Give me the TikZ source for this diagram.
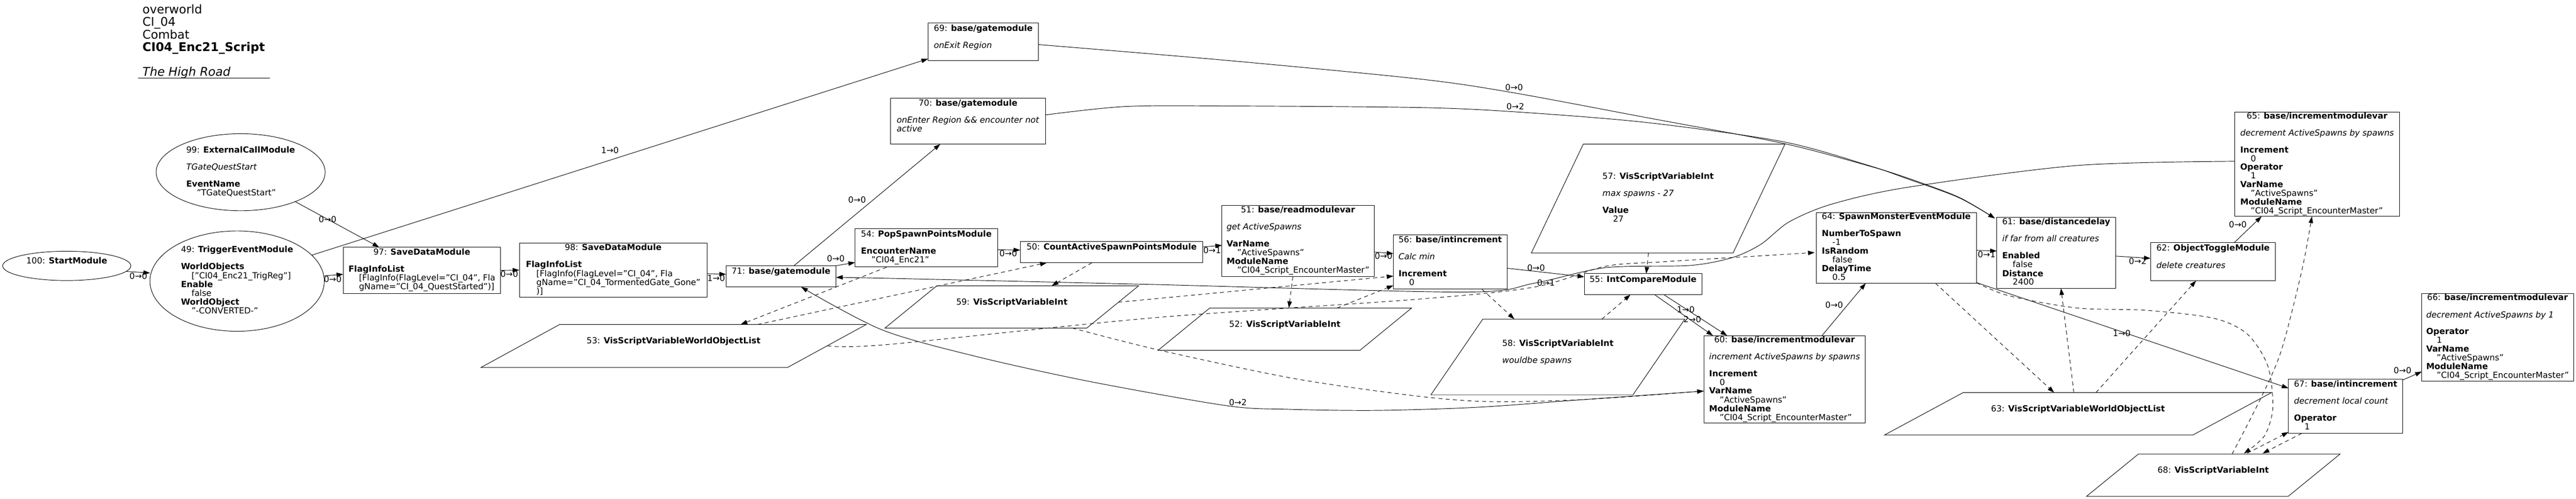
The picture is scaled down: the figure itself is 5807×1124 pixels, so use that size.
\documentclass[tikz,border=0pt]{standalone}
\usepackage{fontspec}
\setmainfont{DejaVu Sans}[ItalicFont={DejaVu Sans Oblique},BoldFont={DejaVu Sans Bold},BoldItalicFont={DejaVu Sans Bold Oblique}]
\usetikzlibrary{arrows.meta,shapes.geometric,calc}
\newcommand\nodefont{\fontsize{18.9pt}{18.6pt}\selectfont}
\newcommand\titlefont{\fontsize{27pt}{26.5pt}\selectfont}
\newcommand\hd[1]{\multicolumn{1}{@{}c@{}}{#1}}
\newcommand\ii{\hspace*{23.7pt}}
\newcommand\paral[2]{\draw[shapeline] ($(#1.north west)+(#2,0)$) -- (#1.north east) -- ($(#1.south east)-(#2,0)$) -- (#1.south west) -- cycle;}
\tikzset{
  shapeline/.style={line width=1.1pt},
  basenode/.style={inner sep=0pt, outer sep=0pt, font=\nodefont},
  box/.style={basenode, draw, line width=1.1pt, rectangle},
  oval/.style={basenode, draw, line width=1.1pt, ellipse},
  pbox/.style={basenode, rectangle},
  lbl/.style={inner sep=0pt, font=\nodefont},
  edge/.style={line width=1.1pt, -{Triangle[length=15pt,width=10pt]}},
  dedge/.style={edge, dash pattern=on 9pt off 7.5pt},
}
\begin{document}
\begin{tikzpicture}[x=1pt,y=-1pt]
\fill[white] (0,0) rectangle (5807,1124);
\useasboundingbox (0,0) rectangle (5807,1124);

% title
\node[anchor=north west, inner sep=0pt, font=\titlefont] (title) at (321,10.3) {\begin{tabular}{@{}l@{}}overworld\\CI\_04\\Combat\\\textbf{CI04\_Enc21\_Script}\\{}\\\textit{The High Road}\end{tabular}};
\draw[line width=1pt] (311,175.6) -- (609,175.6);

% module nodes
\node[oval, minimum width=289pt, minimum height=66pt] (n100) at (150.5,599) {\begin{tabular}{@{}l@{}}100: \textbf{StartModule}\\{}\end{tabular}};
\node[oval, minimum width=381pt, minimum height=173.5pt] (n99) at (542.5,388) {\begin{tabular}{@{}l@{}}\hd{99: \textbf{ExternalCallModule}}\\{}\\\textit{TGateQuestStart}\\{}\\\textbf{EventName}\\\ii"TGateQuestStart"\end{tabular}};
\node[oval, minimum width=393pt, minimum height=226pt] (n49) at (534.5,633.3) {\begin{tabular}{@{}l@{}}\hd{49: \textbf{TriggerEventModule}}\\{}\\\textbf{WorldObjects}\\\ii["CI04\_Enc21\_TrigReg"]\\\textbf{Enable}\\\ii false\\\textbf{WorldObject}\\\ii"-CONVERTED-"\end{tabular}};
\node[box, minimum width=354pt, minimum height=104pt] (n97) at (951,609) {\begin{tabular}{@{}l@{}}\hd{97: \textbf{SaveDataModule}}\\{}\\\textbf{FlagInfoList}\\\ii[FlagInfo(FlagLevel="CI\_04", Fla\\\ii gName="CI\_04\_QuestStarted")]\end{tabular}};
\node[box, minimum width=423.2pt, minimum height=122.3pt] (n98) at (1382.3,608.9) {\begin{tabular}{@{}l@{}}\hd{98: \textbf{SaveDataModule}}\\{}\\\textbf{FlagInfoList}\\\ii[FlagInfo(FlagLevel="CI\_04", Fla\\\ii gName="CI\_04\_TormentedGate\_Gone"\\\ii)]\end{tabular}};
\node[box, minimum width=248pt, minimum height=48pt] (n71) at (1760.7,622.6) {\begin{tabular}{@{}l@{}}71: \textbf{base/gatemodule}\\{}\end{tabular}};
\node[box, minimum width=248pt, minimum height=84.6pt] (n69) at (2216.6,93.9) {\begin{tabular}{@{}l@{}}\hd{69: \textbf{base/gatemodule}}\\{}\\\textit{onExit Region}\\{}\end{tabular}};
\node[box, minimum width=350.5pt, minimum height=103.2pt] (n70) at (2182.2,272.4) {\begin{tabular}{@{}l@{}}\hd{70: \textbf{base/gatemodule}}\\{}\\\textit{onEnter Region \&\& encounter not}\\\textit{active}\\{}\end{tabular}};
\node[box, minimum width=321.2pt, minimum height=85.3pt] (n54) at (2088.1,558) {\begin{tabular}{@{}l@{}}\hd{54: \textbf{PopSpawnPointsModule}}\\{}\\\textbf{EncounterName}\\\ii"CI04\_Enc21"\end{tabular}};
\node[box, minimum width=411.7pt, minimum height=48pt] (n50) at (2505.9,568) {\begin{tabular}{@{}l@{}}50: \textbf{CountActiveSpawnPointsModule}\\{}\end{tabular}};
\node[box, minimum width=342.8pt, minimum height=160.6pt] (n51) at (2926,542.7) {\begin{tabular}{@{}l@{}}\hd{51: \textbf{base/readmodulevar}}\\{}\\\textit{get ActiveSpawns}\\{}\\\textbf{VarName}\\\ii"ActiveSpawns"\\\textbf{ModuleName}\\\ii"CI04\_Script\_EncounterMaster"\end{tabular}};
\node[box, minimum width=257.1pt, minimum height=122pt] (n56) at (3269.2,590) {\begin{tabular}{@{}l@{}}\hd{56: \textbf{base/intincrement}}\\{}\\\textit{Calc min}\\{}\\\textbf{Increment}\\\ii 0\end{tabular}};
\node[box, minimum width=264.8pt, minimum height=47.3pt] (n55) at (3703.8,640.2) {\begin{tabular}{@{}l@{}}55: \textbf{IntCompareModule}\\{}\end{tabular}};
\node[box, minimum width=364.2pt, minimum height=197.1pt] (n60) at (4022.9,854.9) {\begin{tabular}{@{}l@{}}\hd{60: \textbf{base/incrementmodulevar}}\\{}\\\textit{increment ActiveSpawns by spawns}\\{}\\\textbf{Increment}\\\ii 0\\\textbf{VarName}\\\ii"ActiveSpawns"\\\textbf{ModuleName}\\\ii"CI04\_Script\_EncounterMaster"\end{tabular}};
\node[box, minimum width=361.4pt, minimum height=159.1pt] (n64) at (4274.7,558.5) {\begin{tabular}{@{}l@{}}\hd{64: \textbf{SpawnMonsterEventModule}}\\{}\\\textbf{NumberToSpawn}\\\ii -1\\\textbf{IsRandom}\\\ii false\\\textbf{DelayTime}\\\ii 0.5\end{tabular}};
\node[box, minimum width=267.8pt, minimum height=160pt] (n61) at (4635.2,569.5) {\begin{tabular}{@{}l@{}}\hd{61: \textbf{base/distancedelay}}\\{}\\\textit{if far from all creatures}\\{}\\\textbf{Enabled}\\\ii false\\\textbf{Distance}\\\ii 2400\end{tabular}};
\node[box, minimum width=281.6pt, minimum height=85.3pt] (n62) at (4988.8,589.6) {\begin{tabular}{@{}l@{}}\hd{62: \textbf{ObjectToggleModule}}\\{}\\\textit{delete creatures}\\{}\end{tabular}};
\node[box, minimum width=371.2pt, minimum height=234.5pt] (n65) at (5223.3,370.2) {\begin{tabular}{@{}l@{}}\hd{65: \textbf{base/incrementmodulevar}}\\{}\\\textit{decrement ActiveSpawns by spawns}\\{}\\\textbf{Increment}\\\ii 0\\\textbf{Operator}\\\ii 1\\\textbf{VarName}\\\ii"ActiveSpawns"\\\textbf{ModuleName}\\\ii"CI04\_Script\_EncounterMaster"\end{tabular}};
\node[box, minimum width=342.8pt, minimum height=197.2pt] (n66) at (5630.2,760.2) {\begin{tabular}{@{}l@{}}\hd{66: \textbf{base/incrementmodulevar}}\\{}\\\textit{decrement ActiveSpawns by 1}\\{}\\\textbf{Operator}\\\ii 1\\\textbf{VarName}\\\ii"ActiveSpawns"\\\textbf{ModuleName}\\\ii"CI04\_Script\_EncounterMaster"\end{tabular}};
\node[box, minimum width=257.9pt, minimum height=122.5pt] (n67) at (5287.7,915) {\begin{tabular}{@{}l@{}}\hd{67: \textbf{base/intincrement}}\\{}\\\textit{decrement local count}\\{}\\\textbf{Operator}\\\ii 1\end{tabular}};

% variable nodes (parallelograms)
\node[pbox, minimum width=868.8pt, minimum height=97pt] (n53) at (1518.4,779.5) {\begin{tabular}{@{}l@{}}53: \textbf{VisScriptVariableWorldObjectList}\\{}\end{tabular}};
\paral{n53}{177.7}
\node[pbox, minimum width=572pt, minimum height=95.3pt] (n59) at (2281,691.4) {\begin{tabular}{@{}l@{}}59: \textbf{VisScriptVariableInt}\\{}\end{tabular}};
\paral{n59}{117}
\node[pbox, minimum width=571.3pt, minimum height=95.2pt] (n52) at (2896.4,741.6) {\begin{tabular}{@{}l@{}}52: \textbf{VisScriptVariableInt}\\{}\end{tabular}};
\paral{n52}{116.3}
\node[pbox, minimum width=571.7pt, minimum height=245.3pt] (n57) at (3737.9,447.4) {\begin{tabular}{@{}l@{}}\hd{57: \textbf{VisScriptVariableInt}}\\{}\\\textit{max spawns - 27}\\{}\\\textbf{Value}\\\ii 27\end{tabular}};
\paral{n57}{117}
\node[pbox, minimum width=572.5pt, minimum height=170.6pt] (n58) at (3511.8,804.3) {\begin{tabular}{@{}l@{}}\hd{58: \textbf{VisScriptVariableInt}}\\{}\\\textit{wouldbe spawns}\\{}\end{tabular}};
\paral{n58}{117}
\node[pbox, minimum width=872.2pt, minimum height=95.4pt] (n63) at (4684.3,932.3) {\begin{tabular}{@{}l@{}}63: \textbf{VisScriptVariableWorldObjectList}\\{}\end{tabular}};
\paral{n63}{177}
\node[pbox, minimum width=571.6pt, minimum height=95.3pt] (n68) at (4989.2,1070.7) {\begin{tabular}{@{}l@{}}68: \textbf{VisScriptVariableInt}\\{}\end{tabular}};
\paral{n68}{117}

% solid connectors
\draw[edge] ($(n100.center)+(134.2,12.5)$) -- ($(n49.center)+(-196.2,-18.3)$);
\draw[edge] ($(n99.center)+(123.3,66.5)$) -- ($(n97.center)+(-96.2,-52)$);
\draw[edge] ($(n49.center)+(196.4,-11.8)$) -- ($(n97.center)+(-177.3,9)$);
\draw[edge] ($(n49.center)+(168,-58.3)$) -- ($(n69.center)+(-124.6,38.7)$);
\draw[edge] ($(n97.center)+(177,0)$) -- ($(n98.center)+(-211.6,-0.3)$);
\draw[edge] ($(n98.center)+(211.7,7.6)$) -- ($(n71.center)+(-124,-4.6)$);
\draw[edge] ($(n71.center)+(29.1,-24)$) -- ($(n70.center)+(-62.6,52.3)$);
\draw[edge] ($(n71.center)+(124,-24)$) -- ($(n54.center)+(-160.6,33.4)$);
\draw[edge] ($(n54.center)+(160.6,4.7)$) -- ($(n50.center)+(-205.9,-4.6)$);
\draw[edge] ($(n50.center)+(205.8,-11.7)$) -- ($(n51.center)+(-171.4,10)$);
\draw[edge] ($(n51.center)+(171.4,25)$) -- ($(n56.center)+(-128.2,-18.7)$);
\draw[edge] ($(n56.center)+(128.5,14.3)$) -- ($(n55.center)+(-132.4,-16.5)$);
\draw[edge] ($(n55.center)+(46.7,23.6)$) -- ($(n60.center)+(-129.3,-98.6)$);
\draw[edge] ($(n55.center)+(26,23.6)$) -- ($(n60.center)+(-161.4,-98.6)$);
\draw[edge] ($(n60.center)+(84.1,-98.6)$) -- ($(n64.center)+(-68.8,79.5)$);
\draw[edge] ($(n64.center)+(180.7,5.5)$) -- ($(n61.center)+(-133.9,-3.9)$);
\draw[edge] ($(n61.center)+(133.8,7.5)$) -- ($(n62.center)+(-140.8,-7.6)$);
\draw[edge] ($(n62.center)+(47.4,-42.6)$) -- ($(n65.center)+(-125.1,117.3)$);
\draw[edge] ($(n64.center)+(180.7,78.1)$) -- ($(n67.center)+(-129,-40.4)$);
\draw[edge] ($(n67.center)+(128.9,-59)$) -- ($(n66.center)+(-170.8,77.1)$);
\draw[edge] plot[smooth, tension=0.5] coordinates {($(n69.center)+(124,6.5)$) (2765,136) (3200,178) (3406,208) (3712,265) (4018,322.6) (4210,373) (4300,401) (4415,444) ($(n61.center)+(-138.2,-77.5)$)};
\draw[edge] plot[smooth, tension=0.5] coordinates {($(n70.center)+(175.2,-13.6)$) (2536,240) (2765,238.7) (3200,242.3) (3416,252) (3712,276) (4018,319) (4210,372) (4300,403) (4415,445) ($(n61.center)+(-138.2,-77.5)$)};
\draw[edge] plot[smooth, tension=0.5] coordinates {($(n65.center)+(-185.6,-6.8)$) (4682.6,372.8) (4300,422) (4129,460) (4033,500) (3970,550) (3906,580) (3810,598) (3619,603) (3459,638) (3300,658) (2600,641) (2000,627) ($(n71.center)+(124,2.4)$)};
\draw[edge] plot[smooth, tension=0.5] coordinates {($(n60.center)+(-182.1,26.1)$) (3573,900) (3330,917.6) (3100,924.7) (2900,922) (2765,914) (2459,860) (2200,803) (1988,743) ($(n71.center)+(45.3,24.1)$)};

% dashed connectors
\draw[dedge] ($(n54.center)+(-89.4,44)$) -- ($(n53.center)+(151.2,-48.5)$);
\draw[dedge] ($(n53.center)+(189.5,-48.5)$) -- ($(n50.center)+(-146.2,24)$);
\draw[dedge] ($(n50.center)+(-44.4,24)$) -- ($(n59.center)+(90,-47.7)$);
\draw[dedge] ($(n59.center)+(239.4,-10.4)$) -- ($(n56.center)+(-128.2,32)$);
\draw[dedge] ($(n51.center)+(-11.5,80.3)$) -- ($(n52.center)+(9,-47.6)$);
\draw[dedge] ($(n52.center)+(117.6,-47.6)$) -- ($(n56.center)+(-128.2,53)$);
\draw[dedge] plot[smooth, tension=0.5] coordinates {($(n53.center)+(346.4,-0.5)$) (2000,776.3) (2600,716) (3200,673.8) (3459,646.7) (3619,600) (3746,590) (3938,578.3) ($(n64.center)+(-183.9,10.5)$)};
\draw[dedge] ($(n56.center)+(71.8,62)$) -- ($(n58.center)+(-98,-85.3)$);
\draw[dedge] ($(n58.center)+(99.2,-85.3)$) -- ($(n55.center)+(-28.3,23.6)$);
\draw[dedge] ($(n57.center)+(-21.9,122.6)$) -- ($(n55.center)+(7.2,-23.7)$);
\draw[dedge] plot[smooth, tension=0.5] coordinates {($(n59.center)+(136,47.6)$) (2612,788.5) (2918,853) (3200,893) (3364,905) (3573,900) ($(n60.center)+(-182.1,26.1)$)};
\draw[dedge] ($(n64.center)+(88.1,79.5)$) -- ($(n63.center)+(-53.7,-47.7)$);
\draw[dedge] ($(n63.center)+(-9.3,-47.7)$) -- ($(n61.center)+(10.8,80)$);
\draw[dedge] ($(n63.center)+(40.4,-47.7)$) -- ($(n62.center)+(-38.3,42.7)$);
\draw[dedge] plot[smooth, tension=0.5] coordinates {($(n68.center)+(42.5,-47.7)$) (5097,896) (5143,788.5) (5189,609) ($(n65.center)+(-11.7,117.3)$)};
\draw[dedge] plot[smooth, tension=0.5] coordinates {($(n64.center)+(180.7,78.5)$) (4530,666.7) (4683,694) (4836.6,699) (4990,717) (5066,752.7) (5112,824) (5123.6,917.6) (5104.5,982) ($(n68.center)+(69.3,-49.2)$)};
\draw[dedge] ($(n68.center)+(76.8,-49.7)$) -- ($(n67.center)+(-129,58.5)$);
\draw[dedge] ($(n67.center)+(-99.1,61.3)$) -- ($(n68.center)+(111.4,-49.2)$);

% connector labels
\node[lbl] (l1) at (312,622) {0→0};
\node[lbl] (l2) at (738.5,494.6) {0→0};
\node[lbl] (l3) at (750,629.4) {0→0};
\node[lbl] (l4) at (1375,339) {1→0};
\node[lbl] (l5) at (1148,617) {0→0};
\node[lbl] (l6) at (1614.5,627) {1→0};
\node[lbl] (l7) at (1932,450) {0→0};
\node[lbl] (l8) at (1884,582.8) {0→0};
\node[lbl] (l9) at (2273,571.3) {0→0};
\node[lbl] (l10) at (2732.4,563.4) {0→1};
\node[lbl] (l11) at (3118.9,577) {0→0};
\node[lbl] (l12) at (3462.7,603.6) {0→0};
\node[lbl] (l13) at (3800,698) {1→0};
\node[lbl] (l14) at (3814.8,719.7) {2→0};
\node[lbl] (l15) at (4134.7,686.7) {0→0};
\node[lbl] (l16) at (4478.3,573.5) {0→1};
\node[lbl] (l17) at (4818.9,587.8) {0→2};
\node[lbl] (l18) at (5044.6,505.4) {0→0};
\node[lbl] (l19) at (4783,751.3) {1→0};
\node[lbl] (l20) at (5415.8,835) {0→0};
\node[lbl] (l21) at (3413,197) {0→0};
\node[lbl] (l22) at (3416,240) {0→2};
\node[lbl] (l23) at (3485,637) {0→1};
\node[lbl] (l24) at (2790.6,906.8) {0→2};
\end{tikzpicture}
\end{document}
